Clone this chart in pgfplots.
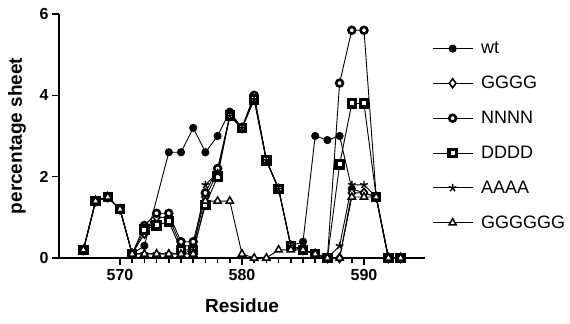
\documentclass[border=0pt]{standalone}
\usepackage{fontspec}
\setmainfont{Liberation Sans}
\usepackage{pgfplots}
\pgfplotsset{compat=1.18}
\usepackage{pgfplotstable}

\pgfplotstableread{
x y
567 0.2
568 1.4
569 1.5
570 1.2
571 0.1
572 0.3
574 2.6
575 2.6
576 3.2
577 2.6
578 3.0
579 3.6
580 3.2
581 4.0
582 2.4
583 1.7
584 0.3
585 0.4
586 3.0
587 2.9
588 3.0
589 1.7
590 1.6
591 1.5
592 0
593 0
}\wt

\pgfplotstableread{
x y
567 0.2
568 1.4
569 1.5
570 1.2
571 0.1
572 0.6
573 1.0
574 1.0
575 0.3
576 0.3
577 1.5
578 2.1
579 3.5
580 3.2
581 3.9
582 2.4
583 1.7
584 0.3
585 0.2
586 0.1
587 0
588 0
589 1.6
590 1.6
591 1.5
592 0
593 0
}\gggg

\pgfplotstableread{
x y
567 0.2
568 1.4
569 1.5
570 1.2
571 0.1
572 0.8
573 1.1
574 1.1
575 0.4
576 0.4
577 1.6
578 2.2
579 3.5
580 3.2
581 4.0
582 2.4
583 1.7
584 0.3
585 0.2
586 0.1
587 0
588 4.3
589 5.6
590 5.6
591 1.5
592 0
593 0
}\nnnn

\pgfplotstableread{
x y
567 0.2
568 1.4
569 1.5
570 1.2
571 0.1
572 0.7
573 0.8
574 0.9
575 0.2
576 0.2
577 1.3
578 2.0
579 3.5
580 3.2
581 3.9
582 2.4
583 1.7
584 0.3
585 0.2
586 0.1
587 0
588 2.3
589 3.8
590 3.8
591 1.5
592 0
593 0
}\dddd

\pgfplotstableread{
x y
567 0.2
568 1.4
569 1.5
570 1.2
571 0.1
572 0.1
573 0.1
574 0.1
575 0.1
576 0.2
577 1.8
578 2.1
579 3.5
580 3.2
581 3.9
582 2.4
583 1.7
584 0.3
585 0.2
586 0.1
587 0
588 0.3
589 1.8
590 1.8
591 1.5
592 0
593 0
}\aaaa

\pgfplotstableread{
x y
567 0.2
568 1.4
569 1.5
570 1.2
571 0.1
572 0.1
573 0.1
574 0.1
575 0.1
576 0.1
577 1.4
578 1.4
579 1.4
580 0.1
581 0
582 0
583 0.2
584 0.2
585 0.2
586 0.1
587 0
588 0
589 1.5
590 1.5
591 1.5
592 0
593 0
}\gggggg

\begin{document}
\begin{tikzpicture}
\path[use as bounding box] (-59bp,-66bp) rectangle (511bp,258bp);
\begin{axis}[
  at={(0,0)}, anchor=south west,
  scale only axis, width=366bp, height=244bp,
  xmin=565, xmax=595, ymin=0, ymax=6,
  axis lines*=left,
  axis line style={line width=1.8bp},
  tick align=outside,
  xtick={570,580,590},
  minor x tick num=9,
  ytick={0,2,4,6},
  major tick length=7bp,
  minor tick length=4.5bp,
  every tick/.style={line width=1.5bp, black},
  /pgf/number format/assume math mode=true,
  /pgf/number format/1000 sep={},
  ticklabel style={font=\fontsize{16bp}{18bp}\selectfont\bfseries},
  xticklabel style={yshift=-1bp},
  xlabel={Residue},
  ylabel={percentage sheet},
  label style={font=\fontsize{19bp}{22bp}\selectfont\bfseries},
  xlabel style={at={(axis description cs:0.5,0)}, anchor=center, yshift=-48bp},
  ylabel style={at={(axis description cs:-0.115,0.5)}, anchor=center},
  clip=false,
  legend style={at={(1,0.5)}, anchor=west, xshift=4bp, draw=none, fill=none,
    font=\fontsize{18bp}{20bp}\selectfont, row sep=17bp,
    /tikz/every odd column/.append style={column sep=6bp}},
  legend cell align=left,
  legend image code/.code={\draw[mark repeat=2,mark phase=2] plot coordinates {(0bp,0bp) (20bp,0bp) (40bp,0bp)};},
]
\addplot[black, line width=0.9bp, mark=*, mark size=3.6bp] table {\wt};
\addlegendentry{wt}
\addplot[black, line width=0.9bp, mark=diamond*, mark size=4.5bp, mark options={fill=white, line width=1.6bp}] table {\gggg};
\addlegendentry{GGGG}
\addplot[black, line width=0.9bp, mark=*, mark size=3.4bp, mark options={fill=white, line width=2.6bp}] table {\nnnn};
\addlegendentry{NNNN}
\addplot[black, line width=0.9bp, mark=square*, mark size=3.6bp, mark options={fill=white, line width=3.2bp}] table {\dddd};
\addlegendentry{DDDD}
\addplot[black, line width=0.9bp, mark=star, mark size=4bp, mark options={line width=1.4bp}] table {\aaaa};
\addlegendentry{AAAA}
\addplot[black, line width=0.9bp, mark=triangle*, mark size=4.2bp, mark options={fill=white, line width=1.5bp}] table {\gggggg};
\addlegendentry{GGGGGG}
\end{axis}
\end{tikzpicture}
\end{document}
